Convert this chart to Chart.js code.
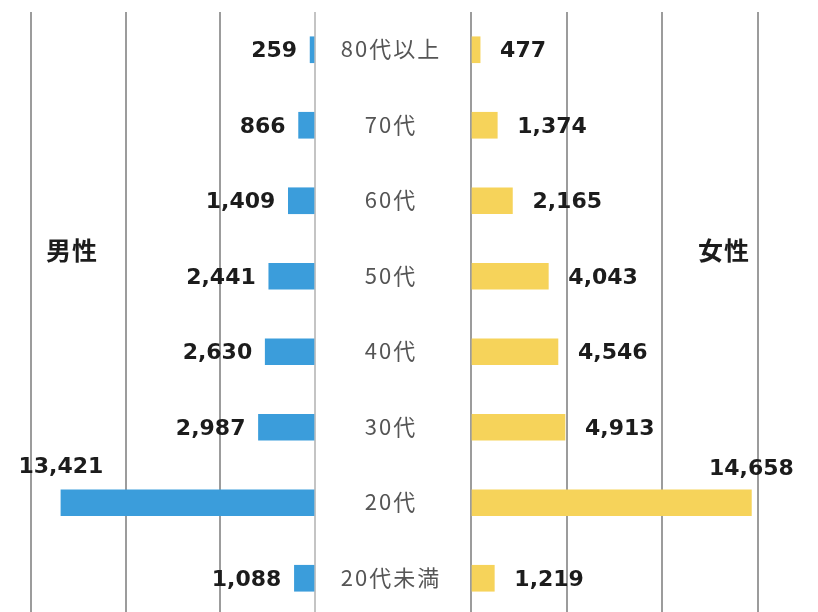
<!DOCTYPE html>
<html>
<head>
<meta charset="utf-8">
<script src="https://cdn.jsdelivr.net/npm/chart.js"></script>
<style>
  html, body { margin: 0; padding: 0; background: #fff; overflow: hidden; }
  #wrap { position: relative; width: 818px; height: 612px; overflow: hidden; }
  canvas { position: absolute; top: 0; }
  #male { left: 0; }
  #female { left: 461px; }
</style>
</head>
<body>
<div id="wrap">
  <canvas id="male" width="471" height="616"></canvas>
  <canvas id="female" width="357" height="616"></canvas>
</div>
<script>
// data
const categories = ['80代以上', '70代', '60代', '50代', '40代', '30代', '20代', '20代未満'];
const maleValues = [259, 866, 1409, 2441, 2630, 2987, 13421, 1088];
const femaleValues = [477, 1374, 2165, 4043, 4546, 4913, 14658, 1219];
const gridValues = [0, 5000, 10000, 15000];

const BLUE = '#3b9ddb';
const YELLOW = '#f6d35a';
const GRID = '#9c9c9c';

// value labels next to each bar (above the bar if it would not fit beside it)
function valueLabels(side, gap) {
  return {
    id: 'valueLabels',
    afterDatasetsDraw(chart) {
      const ctx = chart.ctx;
      const area = chart.chartArea;
      const data = chart.data.datasets[0].data;
      ctx.save();
      ctx.font = 'bold 22px "DejaVu Sans"';
      ctx.fillStyle = '#1c1c1c';
      ctx.textBaseline = 'middle';
      chart.getDatasetMeta(0).data.forEach((bar, i) => {
        const text = data[i].toLocaleString('en-US');
        const w = ctx.measureText(text).width;
        if (side === 'left') {
          if (bar.x - gap - w < area.left - 5) {
            ctx.textAlign = 'center';
            ctx.fillText(text, Math.max(bar.x, area.left + w / 2 + 18), bar.y - 35);
          } else {
            ctx.textAlign = 'right';
            ctx.fillText(text, bar.x - gap, bar.y + 2);
          }
        } else {
          if (bar.x + gap + w > chart.width) {
            ctx.textAlign = 'center';
            ctx.fillText(text, bar.x, bar.y - 33);
          } else {
            ctx.textAlign = 'left';
            ctx.fillText(text, bar.x + gap, bar.y + 2);
          }
        }
      });
      ctx.restore();
    }
  };
}

function sideTitle(text, x, y) {
  return {
    id: 'sideTitle',
    afterDraw(chart) {
      const ctx = chart.ctx;
      ctx.save();
      ctx.font = 'bold 25px "Noto Sans CJK JP"';
      ctx.fillStyle = '#1c1c1c';
      ctx.letterSpacing = '1px';
      ctx.textAlign = 'center';
      ctx.textBaseline = 'middle';
      ctx.fillText(text, x, y);
      ctx.restore();
    }
  };
}

// age group names in the gap between the two halves
const centerLabels = {
  id: 'centerLabels',
  afterDraw(chart) {
    const ctx = chart.ctx;
    const yScale = chart.scales.y;
    ctx.save();
    ctx.font = '22px "Noto Sans CJK JP"';
    ctx.letterSpacing = '2px';
    ctx.fillStyle = '#555555';
    ctx.textAlign = 'center';
    ctx.textBaseline = 'middle';
    chart.data.labels.forEach((label, i) => {
      ctx.fillText(label, chart.chartArea.right + 76, yScale.getPixelForTick(i) - 1);
    });
    ctx.restore();
  }
};

function xScale(max, reverse, zeroColor) {
  return {
    type: 'linear',
    min: 0,
    max: max,
    reverse: reverse,
    afterBuildTicks: (scale) => {
      scale.ticks = gridValues.map(v => ({ value: v }));
    },
    ticks: { display: false },
    grid: {
      color: (c) => (c.tick && c.tick.value === 0 ? zeroColor : GRID),
      lineWidth: 2,
      drawTicks: false
    },
    border: { display: false }
  };
}

new Chart(document.getElementById('male'), {
  type: 'bar',
  data: {
    labels: categories,
    datasets: [{ label: '男性', data: maleValues, backgroundColor: BLUE, barThickness: 26 }]
  },
  options: {
    indexAxis: 'y',
    responsive: false,
    animation: false,
    devicePixelRatio: 1,
    layout: { padding: { top: 12, left: 0, right: 0, bottom: 0 } },
    plugins: { legend: { display: false }, tooltip: { enabled: false } },
    scales: {
      x: xScale(16640, true, '#c4c4c4'),
      y: {
        position: 'right',
        ticks: { display: false },
        grid: { display: false },
        border: { display: false },
        afterFit: (scale) => { scale.width = 156; }
      }
    }
  },
  plugins: [valueLabels('left', 13), centerLabels, sideTitle('男性', 72, 250)]
});

new Chart(document.getElementById('female'), {
  type: 'bar',
  data: {
    labels: categories,
    datasets: [{ label: '女性', data: femaleValues, backgroundColor: YELLOW, barThickness: 26 }]
  },
  options: {
    indexAxis: 'y',
    responsive: false,
    animation: false,
    devicePixelRatio: 1,
    layout: { padding: { top: 12, left: 10, right: 0, bottom: 0 } },
    plugins: { legend: { display: false }, tooltip: { enabled: false } },
    scales: {
      x: xScale(18140, false, GRID),
      y: { display: false }
    }
  },
  plugins: [valueLabels('right', 20), sideTitle('女性', 263, 250)]
});
</script>
</body>
</html>
